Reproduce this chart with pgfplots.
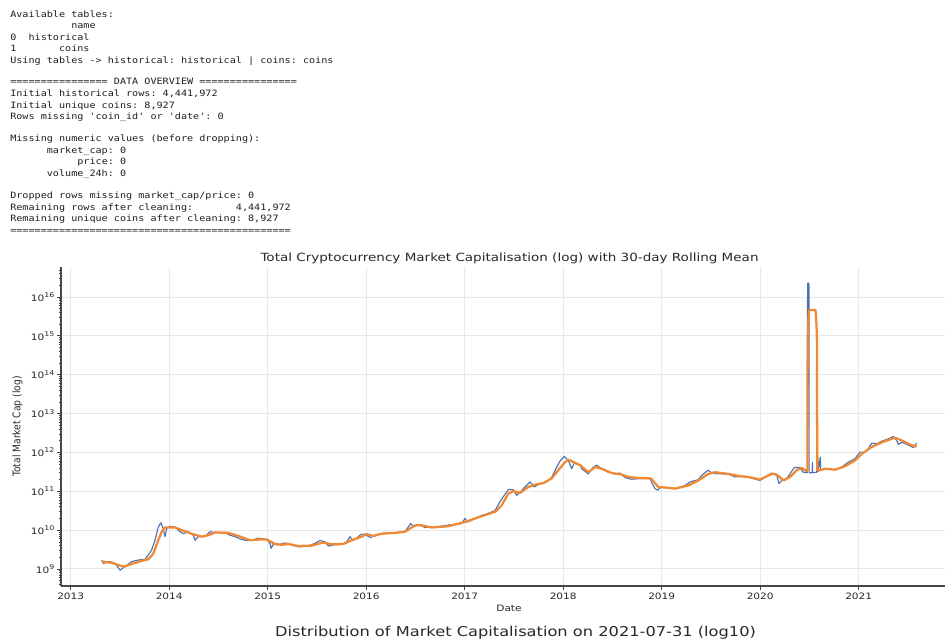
\documentclass[border=0pt]{standalone}
\usepackage{fontspec}
\setmainfont{DejaVu Sans}[FakeStretch=1.2]
\setmonofont{DejaVu Sans Mono}[FakeStretch=1.16]
\newfontfamily\rotfont{DejaVu Sans}[FakeStretch=0.87]
\usepackage{pgfplots}
\pgfplotsset{compat=1.18}

\definecolor{seriesblue}{RGB}{76,114,176}
\definecolor{seriesorange}{RGB}{240,136,52}
\definecolor{inkgray}{RGB}{40,40,40}
\definecolor{consolegray}{RGB}{30,30,30}
\definecolor{spinegray}{RGB}{70,70,70}
\definecolor{gridgray}{RGB}{232,232,232}

% daily total market capitalisation (USD)
\pgfplotstableread{
year cap
2013.315 1.70e9
2013.331 1.40e9
2013.399 1.55e9
2013.450 1.40e9
2013.501 9.3e8
2013.551 1.15e9
2013.619 1.55e9
2013.686 1.70e9
2013.754 1.78e9
2013.788 2.3e9
2013.822 3.1e9
2013.856 5.5e9
2013.889 1.2e10
2013.914 1.55e10
2013.940 1.1e10
2013.957 6.8e9
2013.975 1.1e10
2014.008 1.26e10
2014.059 1.2e10
2014.110 9.1e9
2014.143 8.1e9
2014.194 9.1e9
2014.245 7.4e9
2014.262 5.5e9
2014.295 6.8e9
2014.363 6.8e9
2014.414 9.1e9
2014.465 8.7e9
2014.567 8.7e9
2014.617 7.4e9
2014.668 6.8e9
2014.736 5.75e9
2014.787 5.4e9
2014.838 5.5e9
2014.905 6.2e9
2014.990 5.75e9
2015.023 4.6e9
2015.034 3.4e9
2015.057 4.3e9
2015.108 4.2e9
2015.176 4.7e9
2015.244 4.2e9
2015.311 3.7e9
2015.412 3.9e9
2015.480 4.6e9
2015.531 5.4e9
2015.582 5.0e9
2015.615 3.9e9
2015.683 4.2e9
2015.751 4.3e9
2015.802 5.0e9
2015.836 6.8e9
2015.859 5.4e9
2015.904 6.2e9
2015.947 7.9e9
2015.988 7.9e9
2016.039 6.5e9
2016.089 7.1e9
2016.140 8.1e9
2016.224 8.5e9
2016.326 8.7e9
2016.394 9.3e9
2016.427 1.2e10
2016.452 1.48e10
2016.478 1.26e10
2016.546 1.35e10
2016.597 1.17e10
2016.699 1.2e10
2016.834 1.35e10
2016.970 1.48e10
2017.003 2.0e10
2017.030 1.62e10
2017.105 2.0e10
2017.173 2.4e10
2017.223 2.6e10
2017.308 3.2e10
2017.358 5.4e10
2017.402 7.9e10
2017.443 1.1e11
2017.493 1.1e11
2017.528 7.9e10
2017.561 9.5e10
2017.612 1.29e11
2017.663 1.74e11
2017.707 1.29e11
2017.764 1.58e11
2017.832 1.74e11
2017.883 2.3e11
2017.934 4.2e11
2017.968 6.0e11
2018.011 7.9e11
2018.052 6.2e11
2018.086 3.8e11
2018.113 5.4e11
2018.171 4.7e11
2018.188 3.8e11
2018.255 2.8e11
2018.306 4.2e11
2018.340 4.7e11
2018.391 3.8e11
2018.458 3.1e11
2018.526 2.8e11
2018.577 2.95e11
2018.628 2.24e11
2018.695 2.04e11
2018.797 2.14e11
2018.881 2.14e11
2018.905 1.58e11
2018.932 1.17e11
2018.959 1.07e11
2018.993 1.29e11
2019.067 1.23e11
2019.135 1.17e11
2019.236 1.41e11
2019.287 1.74e11
2019.372 2.0e11
2019.406 2.57e11
2019.473 3.5e11
2019.508 2.95e11
2019.575 2.8e11
2019.676 2.8e11
2019.744 2.34e11
2019.828 2.4e11
2019.896 2.24e11
2019.998 1.9e11
2020.049 2.34e11
2020.117 2.95e11
2020.168 2.57e11
2020.191 1.58e11
2020.218 1.9e11
2020.269 2.14e11
2020.303 2.8e11
2020.346 4.1e11
2020.404 4.1e11
2020.437 3.1e11
2020.472 3.0e11
2020.479 3.0e11
2020.481 2.2e16
2020.488 2.3e16
2020.495 2.1e16
2020.497 3.0e11
2020.528 3.0e11
2020.530 5.6e11
2020.532 3.0e11
2020.574 3.1e11
2020.585 7.9e11
2020.589 3.2e11
2020.610 7.6e11
2020.614 3.4e11
2020.641 3.6e11
2020.691 3.8e11
2020.759 3.6e11
2020.827 4.2e11
2020.894 5.6e11
2020.962 6.9e11
2021.013 1.02e12
2021.064 1.02e12
2021.097 1.23e12
2021.132 1.74e12
2021.183 1.66e12
2021.234 1.95e12
2021.301 2.24e12
2021.351 2.57e12
2021.386 2.04e12
2021.402 1.62e12
2021.437 1.82e12
2021.487 1.62e12
2021.538 1.41e12
2021.554 1.32e12
2021.589 1.74e12
}\dailycap

% 30-day rolling mean of the same series
\pgfplotstableread{
year cap
2013.315 1.55e9
2013.416 1.45e9
2013.483 1.26e9
2013.544 1.15e9
2013.619 1.35e9
2013.721 1.62e9
2013.788 1.78e9
2013.839 2.5e9
2013.889 5.5e9
2013.924 9.1e9
2013.957 1.17e10
2014.059 1.17e10
2014.127 1.0e10
2014.228 8.1e9
2014.330 6.8e9
2014.397 7.4e9
2014.465 8.7e9
2014.600 8.5e9
2014.702 7.1e9
2014.820 5.5e9
2014.922 5.75e9
2014.990 5.75e9
2015.074 4.4e9
2015.142 4.2e9
2015.209 4.4e9
2015.311 3.9e9
2015.447 4.0e9
2015.564 4.8e9
2015.650 4.3e9
2015.767 4.4e9
2015.853 5.5e9
2015.954 6.8e9
2016.005 7.9e9
2016.072 7.1e9
2016.157 8.1e9
2016.292 8.5e9
2016.394 9.1e9
2016.445 1.1e10
2016.495 1.32e10
2016.546 1.35e10
2016.665 1.17e10
2016.834 1.26e10
2017.003 1.62e10
2017.173 2.3e10
2017.308 2.95e10
2017.376 4.4e10
2017.443 8.7e10
2017.493 1.02e11
2017.561 9.1e10
2017.646 1.29e11
2017.714 1.48e11
2017.798 1.62e11
2017.883 2.14e11
2017.950 3.5e11
2018.018 5.6e11
2018.052 6.5e11
2018.120 5.4e11
2018.171 4.7e11
2018.255 3.1e11
2018.323 4.2e11
2018.391 3.8e11
2018.492 2.95e11
2018.594 2.7e11
2018.661 2.34e11
2018.762 2.2e11
2018.891 2.14e11
2018.932 1.62e11
2018.966 1.29e11
2019.067 1.23e11
2019.135 1.17e11
2019.270 1.41e11
2019.372 1.9e11
2019.473 2.8e11
2019.541 3.1e11
2019.676 2.8e11
2019.795 2.45e11
2019.879 2.34e11
2019.998 2.0e11
2020.117 2.8e11
2020.168 2.7e11
2020.236 1.9e11
2020.303 2.34e11
2020.371 3.5e11
2020.421 4.0e11
2020.472 3.3e11
2020.479 3.3e11
2020.482 7.7e14
2020.485 1.5e15
2020.488 2.3e15
2020.491 3.1e15
2020.494 3.9e15
2020.497 4.6e15
2020.561 4.6e15
2020.564 3.9e15
2020.567 3.1e15
2020.570 2.3e15
2020.573 1.5e15
2020.576 7.7e14
2020.579 3.5e11
2020.607 3.5e11
2020.658 3.8e11
2020.759 3.6e11
2020.860 4.4e11
2020.962 6.2e11
2021.030 9.1e11
2021.132 1.38e12
2021.234 1.82e12
2021.335 2.24e12
2021.368 2.4e12
2021.437 2.04e12
2021.504 1.66e12
2021.589 1.41e12
}\rollcap

\newcommand\ex[1]{\raisebox{0.42em}{\fontsize{4.9pt}{5pt}\selectfont #1}}

\begin{document}
\begin{tikzpicture}
% page: 945 x 640 px at 0.75pt per px
\path[use as bounding box] (0pt,0pt) rectangle (708.75pt,-480pt);
\begin{scope}[x=0.75pt,y=-0.75pt]
% console output printed above the figure
\begin{scope}[every node/.style={anchor=base west,inner sep=0pt,text=consolegray,
    font=\ttfamily\fontsize{6.55pt}{7pt}\selectfont}]
\node at (10,17.3) {Available~tables:};
\node at (10,28.7) {~~~~~~~~~~name};
\node at (10,40.2) {0~~historical};
\node at (10,51.8) {1~~~~~~~coins};
\node at (10,63.3) {Using~tables~->~historical:~historical~|~coins:~coins};
\node at (10,84.3) {================~DATA~OVERVIEW~================};
\node at (10,96.3) {Initial~historical~rows:~4,441,972};
\node at (10,108.0) {Initial~unique~coins:~8,927};
\node at (10,119.7) {Rows~missing~'coin\_id'~or~'date':~0};
\node at (10,141.5) {Missing~numeric~values~(before~dropping):};
\node at (10,153.2) {~~~~~~market\_cap:~0};
\node at (10,164.8) {~~~~~~~~~~~price:~0};
\node at (10,176.5) {~~~~~~volume\_24h:~0};
\node at (10,198.3) {Dropped~rows~missing~market\_cap/price:~0};
\node at (10,210.0) {Remaining~rows~after~cleaning:~~~~~~~4,441,972};
\node at (10,221.7) {Remaining~unique~coins~after~cleaning:~8,927};
\node at (10,233.3) {==============================================};
\end{scope}
% titles and axis labels
\node[anchor=base,inner sep=0pt,text=inkgray,font=\fontsize{8.45pt}{9pt}\selectfont]
  at (509.5,261.7) {Total Cryptocurrency Market Capitalisation (log) with 30-day Rolling Mean};
\node[anchor=base,inner sep=0pt,text=inkgray,font=\fontsize{6.6pt}{8pt}\selectfont]
  at (509,611.7) {Date};
\node[rotate=90,inner sep=0pt,text=inkgray,font=\rotfont\fontsize{7.9pt}{9pt}\selectfont]
  at (17.5,426.5) {Total Market Cap (log)};
\node[anchor=base,inner sep=0pt,text=inkgray,font=\fontsize{10.15pt}{11pt}\selectfont]
  at (515.5,636.7) {Distribution of Market Capitalisation on 2021-07-31 (log10)};
\end{scope}

\begin{axis}[
  at={(45.75pt,-439.5pt)}, anchor=south west,
  scale only axis, width=671.25pt, height=239.25pt,
  xmin=2012.9015, xmax=2021.988,
  ymode=log, ymin=3.65e8, ymax=5.92e16,
  axis x line*=bottom, axis y line*=left,
  axis line style={spinegray,line width=0.9pt},
  xtick={2013,2014,2015,2016,2017,2018,2019,2020,2021},
  xticklabels={2013,2014,2015,2016,2017,2018,2019,2020,2021},
  ytick={1e9,1e10,1e11,1e12,1e13,1e14,1e15,1e16},
  yticklabels={10\ex{9},10\ex{10},10\ex{11},10\ex{12},10\ex{13},10\ex{14},10\ex{15},10\ex{16}},
  minor ytick={4e8,5e8,6e8,7e8,8e8,9e8,
    2e9,3e9,4e9,5e9,6e9,7e9,8e9,9e9,
    2e10,3e10,4e10,5e10,6e10,7e10,8e10,9e10,
    2e11,3e11,4e11,5e11,6e11,7e11,8e11,9e11,
    2e12,3e12,4e12,5e12,6e12,7e12,8e12,9e12,
    2e13,3e13,4e13,5e13,6e13,7e13,8e13,9e13,
    2e14,3e14,4e14,5e14,6e14,7e14,8e14,9e14,
    2e15,3e15,4e15,5e15,6e15,7e15,8e15,9e15,
    2e16,3e16,4e16,5e16},
  tick align=outside,
  major tick length=3pt, minor tick length=1.6pt,
  every tick/.style={spinegray,line width=0.7pt},
  minor tick style={spinegray,line width=0.5pt},
  grid=major,
  major grid style={gridgray,line width=0.75pt},
  ticklabel style={text=inkgray,font=\fontsize{6.6pt}{8pt}\selectfont},
  xticklabel style={inner sep=2pt},
  yticklabel style={inner sep=1.8pt},
]
\addplot[seriesblue,line width=0.85pt,line join=round] table[x=year,y=cap]{\dailycap};
\addplot[seriesorange,line width=1.7pt,line join=round] table[x=year,y=cap]{\rollcap};
\end{axis}
\end{tikzpicture}
\end{document}
